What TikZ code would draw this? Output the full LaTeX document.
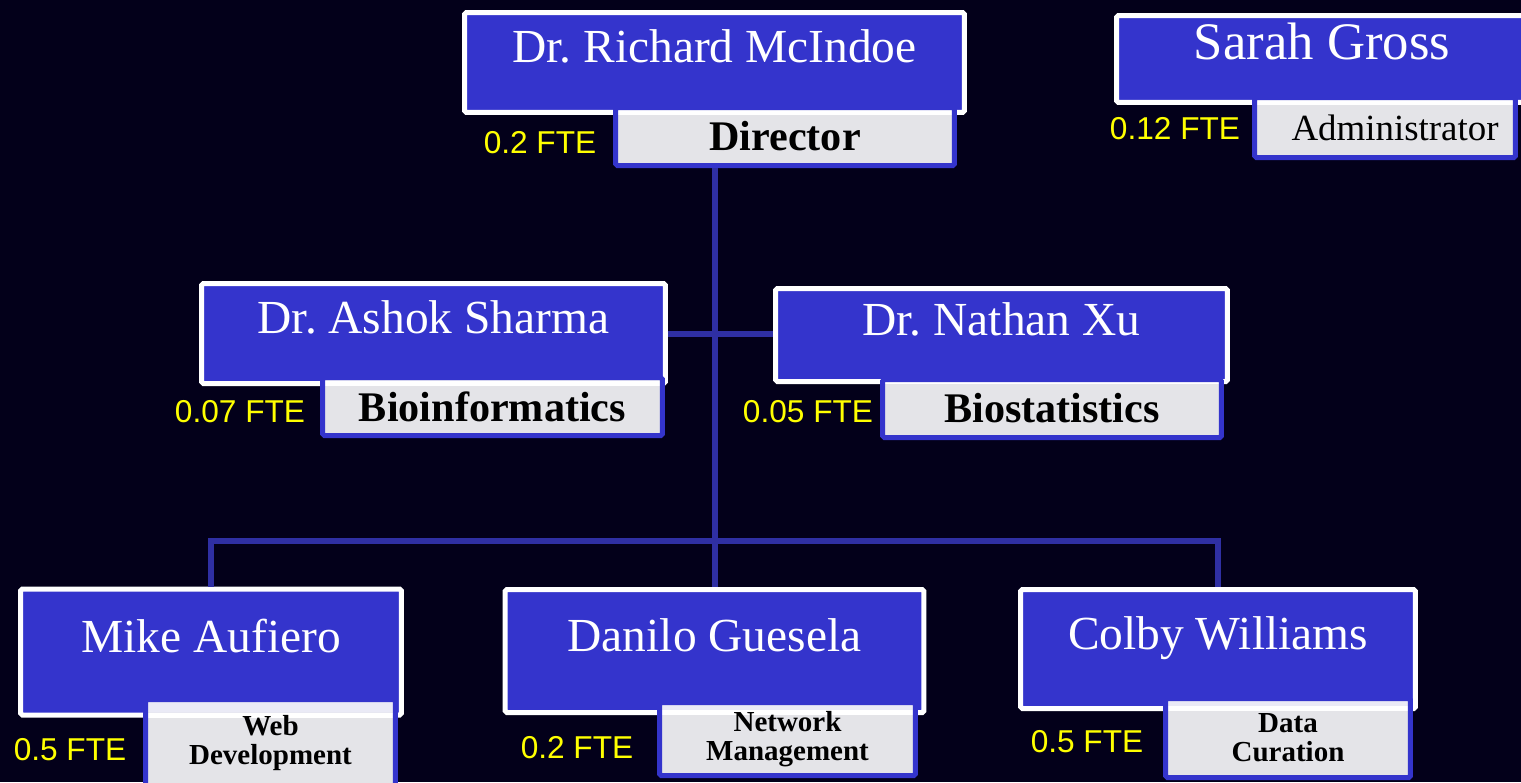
\documentclass[tikz,border=0pt]{standalone}
\usepackage{fontspec}
\setmainfont{Liberation Serif}
\newfontfamily\ftefont{Liberation Sans}
\usetikzlibrary{calc}
\definecolor{navy}{HTML}{03001A}
\definecolor{boxblue}{HTML}{3434CC}
\definecolor{linkblue}{HTML}{2F2FA3}
\definecolor{titlegray}{HTML}{E4E4E8}
\definecolor{titlestrip}{HTML}{EAEAF6}
\definecolor{fteyellow}{HTML}{FFFF00}
\frenchspacing

\begin{document}
\begin{tikzpicture}[x=0.02cm,y=-0.02cm]
    \tikzstyle{namebox}=[draw=white,line width=0.1cm,fill=boxblue,rounded corners=1pt,text=white,
                         text height=0pt,text depth=0pt,inner sep=0pt,font=\fontsize{27}{30}\selectfont]
    \tikzstyle{titlebox}=[draw=boxblue,line width=0.1cm,fill=titlegray,rounded corners=1pt,text=black,
                          align=center,inner sep=0pt,font=\bfseries\fontsize{24}{26}\selectfont]
    % light band + white edge where a title box sits on its name box
    \tikzstyle{on}=[path picture={
        \fill[titlestrip](path picture bounding box.north west)rectangle($(path picture bounding box.east |- #1.south)+(0,-5)$);
        \draw[white,line width=0.1cm]($(path picture bounding box.west |- #1.south)+(0,-2.5)$)--($(path picture bounding box.east |- #1.south)+(0,-2.5)$);}]
    \tikzstyle{small}=[font=\bfseries\fontsize{16.5}{16.5}\selectfont]
    \tikzstyle{fte}=[text=fteyellow,anchor=base,inner sep=0pt,font=\ftefont\fontsize{18}{20}\selectfont]
    \tikzstyle{link}=[draw=linkblue,line width=0.12cm]
    \useasboundingbox(0,0)rectangle(1521,782);
    \clip(0,0)rectangle(1521,782);
    \fill[navy](0,0)rectangle(1521,782);
    % director
    \draw node[namebox,minimum width=10cm,minimum height=2cm](RM)at(714.5,62.5){Dr. Richard McIndoe}
          node[titlebox,on=RM,minimum width=6.78cm,minimum height=1.16cm](RMt)at(785,136.5){Director};
    \node[fte](RMf)at(540,153){0.2 FTE};
    % administrator
    \draw node[namebox,minimum width=8.22cm,minimum height=1.74cm,font=\fontsize{30}{32}\selectfont](SG)at(1322,59){Sarah Gross}
          node[titlebox,on=SG,minimum width=5.22cm,minimum height=1.2cm,font=\fontsize{21}{24}\selectfont](SGt)at(1385,127.5){\hspace*{0.4cm}Administrator};
    \node[fte](SGf)at(1175,139){0.12 FTE};
    % second row
    \draw node[namebox,minimum width=9.28cm,minimum height=2cm](AS)at(433.5,333.5){Dr. Ashok Sharma}
          node[titlebox,on=AS,minimum width=6.8cm,minimum height=1.16cm](ASt)at(492.5,406.5){Bioinformatics};
    \node[fte](ASf)at(240,422){0.07 FTE};
    \draw node[namebox,minimum width=9.04cm,minimum height=1.86cm](NX)at(1001.5,335){Dr. Nathan Xu}
          node[titlebox,on=NX,minimum width=6.78cm,minimum height=1.16cm](NXt)at(1052,408.5){Biostatistics};
    \node[fte](NXf)at(808,422){0.05 FTE};
    % bottom row
    \draw node[namebox,minimum width=7.62cm,minimum height=2.52cm](MA)at(211,652){Mike Aufiero}
          node[titlebox,on=MA,small,minimum width=5cm,minimum height=1.74cm](MAt)at(270.5,743){Web\\Development};
    \node[fte](MAf)at(70,760){0.5 FTE};
    \draw node[namebox,minimum width=8.38cm,minimum height=2.46cm](DG)at(714.5,651){Danilo Guesela}
          node[titlebox,on=DG,small,minimum width=5.12cm,minimum height=1.46cm](DGt)at(787.5,739){Network\\Management};
    \node[fte](DGf)at(577,758){0.2 FTE};
    \draw node[namebox,minimum width=7.9cm,minimum height=2.38cm](CW)at(1218,649){Colby Williams}
          node[titlebox,on=CW,small,minimum width=4.9cm,minimum height=1.58cm](CWt)at(1288,738){Data\\Curation};
    \node[fte](CWf)at(1087,752){0.5 FTE};
    % connectors
    \coordinate(bus)at(714.5,541);
    \draw[link](RMt.south -| RM)--(DG.north);
    \draw[link](AS.east)--(AS.east -| NX.west);
    \draw[link](MA.north)|-(bus)-|(CW.north);
  \end{tikzpicture}
\end{document}
